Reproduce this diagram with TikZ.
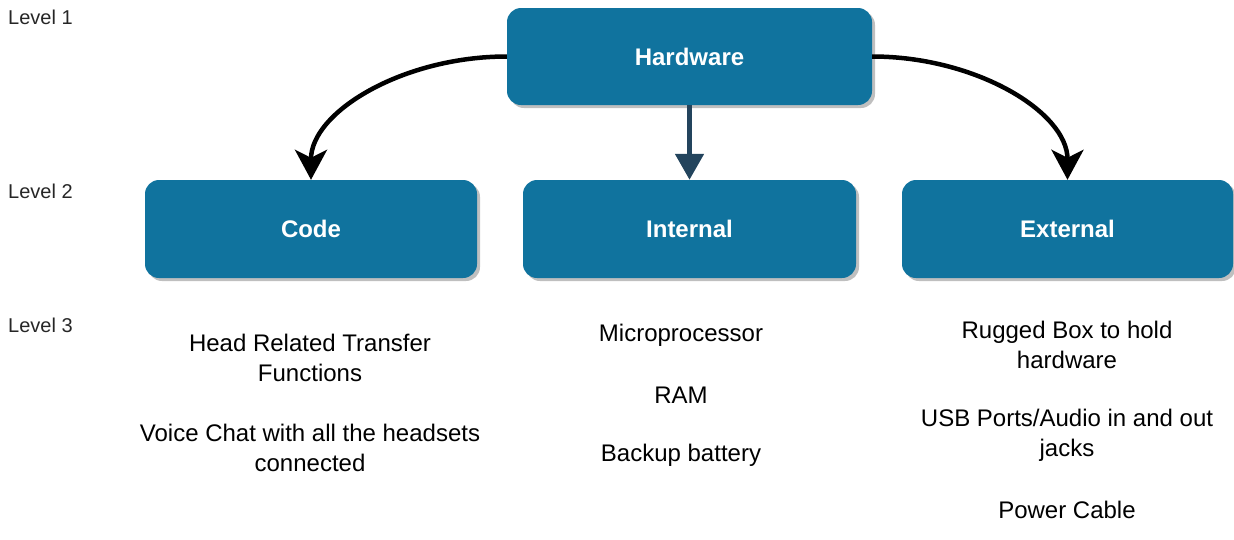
\documentclass[tikz,border=0pt]{standalone}
\usepackage{fontspec}
\setmainfont{Liberation Sans}
\usetikzlibrary{arrows.meta,shadows}
\definecolor{boxblue}{HTML}{10739E}
\definecolor{darkarrow}{HTML}{23445D}
\begin{document}
\begin{tikzpicture}[x=1pt,y=-1pt,
  box/.style={draw=none,fill=boxblue,rounded corners=14pt,
    drop shadow={shadow xshift=3pt,shadow yshift=-3pt,fill=black,opacity=.25},
    text=white,font=\fontsize{24}{28}\selectfont\bfseries,inner sep=0pt},
  lvl/.style={anchor=north west,inner sep=0pt,font=\fontsize{20}{23}\selectfont,text=black!85},
  item/.style={align=center,inner sep=0pt,font=\fontsize{24}{30}\selectfont,text=black},
  curvearrow/.style={line width=4.5pt,black,-{Stealth[width=32pt,length=30pt,inset=8pt]}},
  midarrow/.style={line width=5pt,darkarrow,-{Triangle[width=28pt,length=26pt]}}]
\useasboundingbox (0,0) rectangle (1234,539);

\node[lvl] (l1) at (8,10) {Level 1};
\node[lvl] (l2) at (8,184) {Level 2};
\node[lvl] (l3) at (8,318) {Level 3};

\node[box,minimum width=365pt,minimum height=97pt] (hw) at (689.5,56.5) {Hardware};
\node[box,minimum width=332pt,minimum height=98pt] (code) at (311,229) {Code};
\node[box,minimum width=333pt,minimum height=98pt] (int) at (689.5,229) {Internal};
\node[box,minimum width=331pt,minimum height=98pt] (ext) at (1067.5,229) {External};

\draw[curvearrow] (hw.west) to[out=180,in=90,out looseness=1.15,in looseness=0.75] (code.north);
\draw[curvearrow] (hw.east) to[out=0,in=90,out looseness=1.15,in looseness=0.75] (ext.north);
\draw[midarrow] (hw.south) -- (int.north);

\node[item] (c1) at (310,358) {Head Related Transfer\\Functions};
\node[item] (c2) at (310,448) {Voice Chat with all the headsets\\connected};

\node[item] (i1) at (681,335) {Microprocessor};
\node[item] (i2) at (681,395) {RAM};
\node[item] (i3) at (681,455) {Backup battery};

\node[item] (e1) at (1067,345) {Rugged Box to hold\\hardware};
\node[item] (e2) at (1067,435) {USB Ports/Audio in and out\\jacks};
\node[item] (e3) at (1067,510) {Power Cable};
\end{tikzpicture}
\end{document}
